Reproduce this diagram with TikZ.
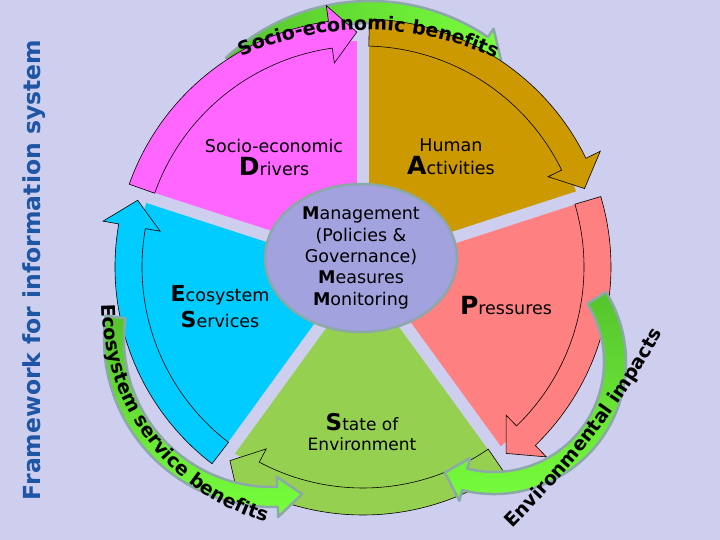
\documentclass[tikz,border=0pt]{standalone}
\usepackage{fontspec}
\setmainfont{DejaVu Sans}
\usetikzlibrary{shapes.geometric,decorations.text}

\definecolor{bgcol}{RGB}{206,206,238}
\definecolor{magcol}{RGB}{255,102,255}
\definecolor{goldcol}{RGB}{204,153,0}
\definecolor{salmoncol}{RGB}{255,128,128}
\definecolor{grasscol}{RGB}{150,208,80}
\definecolor{cyancol}{RGB}{0,204,255}
\definecolor{hubcol}{RGB}{162,162,222}
\definecolor{rimcol}{RGB}{140,168,168}
\definecolor{darkgreen}{RGB}{85,195,45}
\definecolor{litegreen}{RGB}{120,255,60}
\definecolor{titleblue}{RGB}{30,85,165}

\newcommand\curvefont{\fontsize{19}{19}\selectfont\bfseries}
\newcommand\capletter[2]{{\fontsize{#1}{#1}\selectfont\bfseries #2}}

\begin{document}
\begin{tikzpicture}[x=1pt,y=1pt,
  sectorarrow/.style={draw=black,line width=0.6pt},
  rimarrow/.style={draw=rimcol,line width=2.5pt,line join=round},
  gapline/.style={draw=bgcol,line width=12pt},
  lbl/.style={align=center,font=\fontsize{17.5}{23}\selectfont}]
\tikzstyle{every node}+=[inner sep=0pt]
\useasboundingbox (0,0) rectangle (720,540);
\fill [bgcol] (0,0) rectangle (720,540);
\node [rotate=90,font=\bfseries\fontsize{23.5}{24}\selectfont,text=titleblue] (title) at (34,270) {Framework for information system};
\begin{scope}[shift={(370,328)}]
\shadedraw [rimarrow,left color=darkgreen,right color=litegreen] (133:189) arc (133:56:189) -- (56:179) -- (49:200) -- (56:221) -- (56:211) arc (56:133:211) -- cycle;
\end{scope}
\begin{scope}[shift={(363,273)}]
\fill [magcol] (0,0) -- (162:226) arc (162:90:226) -- cycle;
\fill [goldcol] (0,0) -- (90:226) arc (90:18:226) -- cycle;
\fill [salmoncol] (0,0) -- (18:226) arc (18:-54:226) -- cycle;
\fill [grasscol] (0,0) -- (-54:226) arc (-54:-126:226) -- cycle;
\fill [cyancol] (0,0) -- (234:226) arc (234:162:226) -- cycle;
\draw [gapline] (0,0) -- (90:230);
\draw [gapline] (0,0) -- (162:230);
\draw [gapline] (0,0) -- (234:230);
\draw [gapline] (0,0) -- (306:230);
\draw [gapline] (0,0) -- (18:230);
\filldraw [sectorarrow,fill=magcol] (160.5:221) arc (160.5:98:221) -- (98:206) -- (91.5:235) -- (98:264) -- (98:248) arc (98:160.5:248) -- cycle;
\filldraw [sectorarrow,fill=goldcol] (88.5:221) arc (88.5:26:221) -- (26:206) -- (19.5:235) -- (26:264) -- (26:248) arc (26:88.5:248) -- cycle;
\filldraw [sectorarrow,fill=salmoncol] (16.5:221) arc (16.5:-46:221) -- (-46:206) -- (-52.5:235) -- (-46:264) -- (-46:248) arc (-46:16.5:248) -- cycle;
\filldraw [sectorarrow,fill=grasscol] (-55.5:221) arc (-55.5:-118:221) -- (-118:206) -- (-124.5:235) -- (-118:264) -- (-118:248) arc (-118:-55.5:248) -- cycle;
\filldraw [sectorarrow,fill=cyancol] (232.5:221) arc (232.5:170:221) -- (170:206) -- (163.5:235) -- (170:264) -- (170:248) arc (170:232.5:248) -- cycle;
\end{scope}
\node [ellipse,draw=rimcol,fill=hubcol,line width=2.5pt,minimum width=192pt,minimum height=148pt,align=center,font=\fontsize{17.5}{21.4}\selectfont] (hub) at (361,282) {\textbf{M}anagement\\(Policies \&\\Governance)\\\textbf{M}easures\\\textbf{M}onitoring};
\node [lbl] (drivers) at (274,383) {Socio-economic\\\capletter{25}{D}rivers};
\node [lbl] (activities) at (451,383) {Human\\\capletter{25}{A}ctivities};
\node [lbl,font=\fontsize{17.5}{26}\selectfont] (services) at (220,233) {\capletter{22}{E}cosystem\\\capletter{22}{S}ervices};
\node [lbl] (pressures) at (506,234) {\capletter{25}{P}ressures};
\node [lbl,font=\fontsize{17}{20}\selectfont] (stateenv) at (362,108) {\capletter{23}{S}tate of\\Environment};
\begin{scope}[shift={(272,201)}]
\shadedraw [rimarrow,top color=darkgreen,bottom color=litegreen] (172:148) arc (172:272:148) -- (272:138) -- (281:158) -- (272:178) -- (272:168) arc (272:172:168) -- cycle;
\end{scope}
\begin{scope}[shift={(494,178)}]
\shadedraw [rimarrow,top color=darkgreen,bottom color=litegreen] (32:110) arc (32:-104:110) -- (-104:99) -- (-114:121) -- (-104:143) -- (-104:132) arc (-104:32:132) -- cycle;
\end{scope}
\begin{scope}[shift={(366,202)}]
\path [decorate,decoration={text along path,text align=center,text={|\curvefont|Socio-economic benefits}}] (115:308) arc (115:64:308);
\end{scope}
\begin{scope}[shift={(329,236)}]
\path [decorate,decoration={text along path,text align=center,text={|\curvefont|Ecosystem service benefits}}] (176:227) arc (176:258:227);
\end{scope}
\path [decorate,decoration={text along path,text align=center,text={|\curvefont|Environmental impacts}}] (513,12) to [bend right=7] (662,206);
\end{tikzpicture}
\end{document}
